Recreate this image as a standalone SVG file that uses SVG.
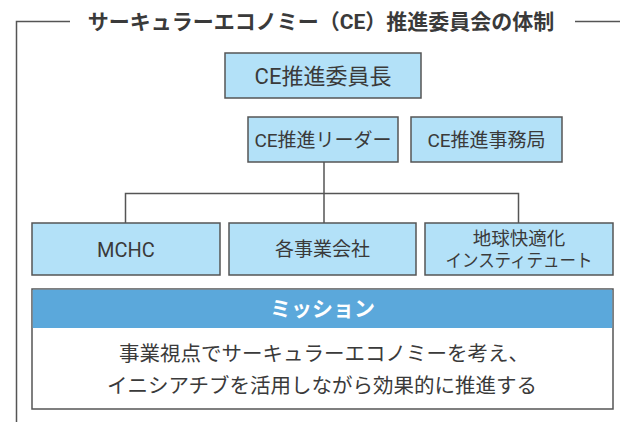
<svg xmlns="http://www.w3.org/2000/svg" width="620" height="422" viewBox="0 0 620 422">
<style>
.frame{fill:none;stroke:#555;stroke-width:1.5}
.box{fill:#b3e1f8;stroke:#555;stroke-width:1.5}
.conn{fill:none;stroke:#555;stroke-width:1.5}
.t{font-family:Roboto,"Noto Sans CJK JP",sans-serif;fill:#3a3a3a;text-anchor:middle;dominant-baseline:central}
.title{font-family:Roboto,"Noto Sans CJK JP",sans-serif;font-weight:bold;fill:#3a3a3a;text-anchor:middle;font-size:21px}
</style>
<rect width="620" height="422" fill="#fff"/>
<g id="frame">
<path class="frame" d="M70,21.5 H16.5 V422"/>
<path class="frame" d="M575,21.5 H620"/>
<text class="title" x="321" y="29">サーキュラーエコノミー（CE）推進委員会の体制</text>
</g>
<g id="connectors">
<path class="conn" d="M324,162 V223"/>
<path class="conn" d="M125.5,223 V193.5 H518.5 V223"/>
</g>
<g id="chair">
<rect class="box" x="225" y="53" width="196" height="45"/>
<text class="t" x="323" y="76" font-size="22">CE推進委員長</text>
</g>
<g id="leader">
<rect class="box" x="248" y="117" width="150" height="45"/>
<text class="t" x="323" y="140" font-size="19">CE推進リーダー</text>
</g>
<g id="office">
<rect class="box" x="411" y="117" width="151" height="45"/>
<text class="t" x="486.5" y="140" font-size="19">CE推進事務局</text>
</g>
<g id="mchc">
<rect class="box" x="32" y="223" width="188" height="52"/>
<text class="t" x="126" y="249.5" font-size="20">MCHC</text>
</g>
<g id="group-companies">
<rect class="box" x="229" y="223" width="187" height="52"/>
<text class="t" x="322.5" y="249.5" font-size="19">各事業会社</text>
</g>
<g id="institute">
<rect class="box" x="425" y="223" width="188" height="52"/>
<text class="t" x="519" y="239" font-size="18.5">地球快適化</text>
<text class="t" x="519" y="260" font-size="18" textLength="147" lengthAdjust="spacingAndGlyphs">インスティテュート</text>
</g>
<g id="mission">
<rect x="32" y="289" width="581" height="120" fill="#fff" stroke="#555" stroke-width="1.5"/>
<rect x="32.75" y="289.75" width="579.5" height="38.25" fill="#5ba8db"/>
<text class="t" x="322.5" y="309" font-size="21" font-weight="bold" style="fill:#fff">ミッション</text>
<text class="t" x="324" y="354" font-size="20.5">事業視点でサーキュラーエコノミーを考え、</text>
<text class="t" x="322" y="386" font-size="20.5">イニシアチブを活用しながら効果的に推進する</text>
</g>
</svg>
